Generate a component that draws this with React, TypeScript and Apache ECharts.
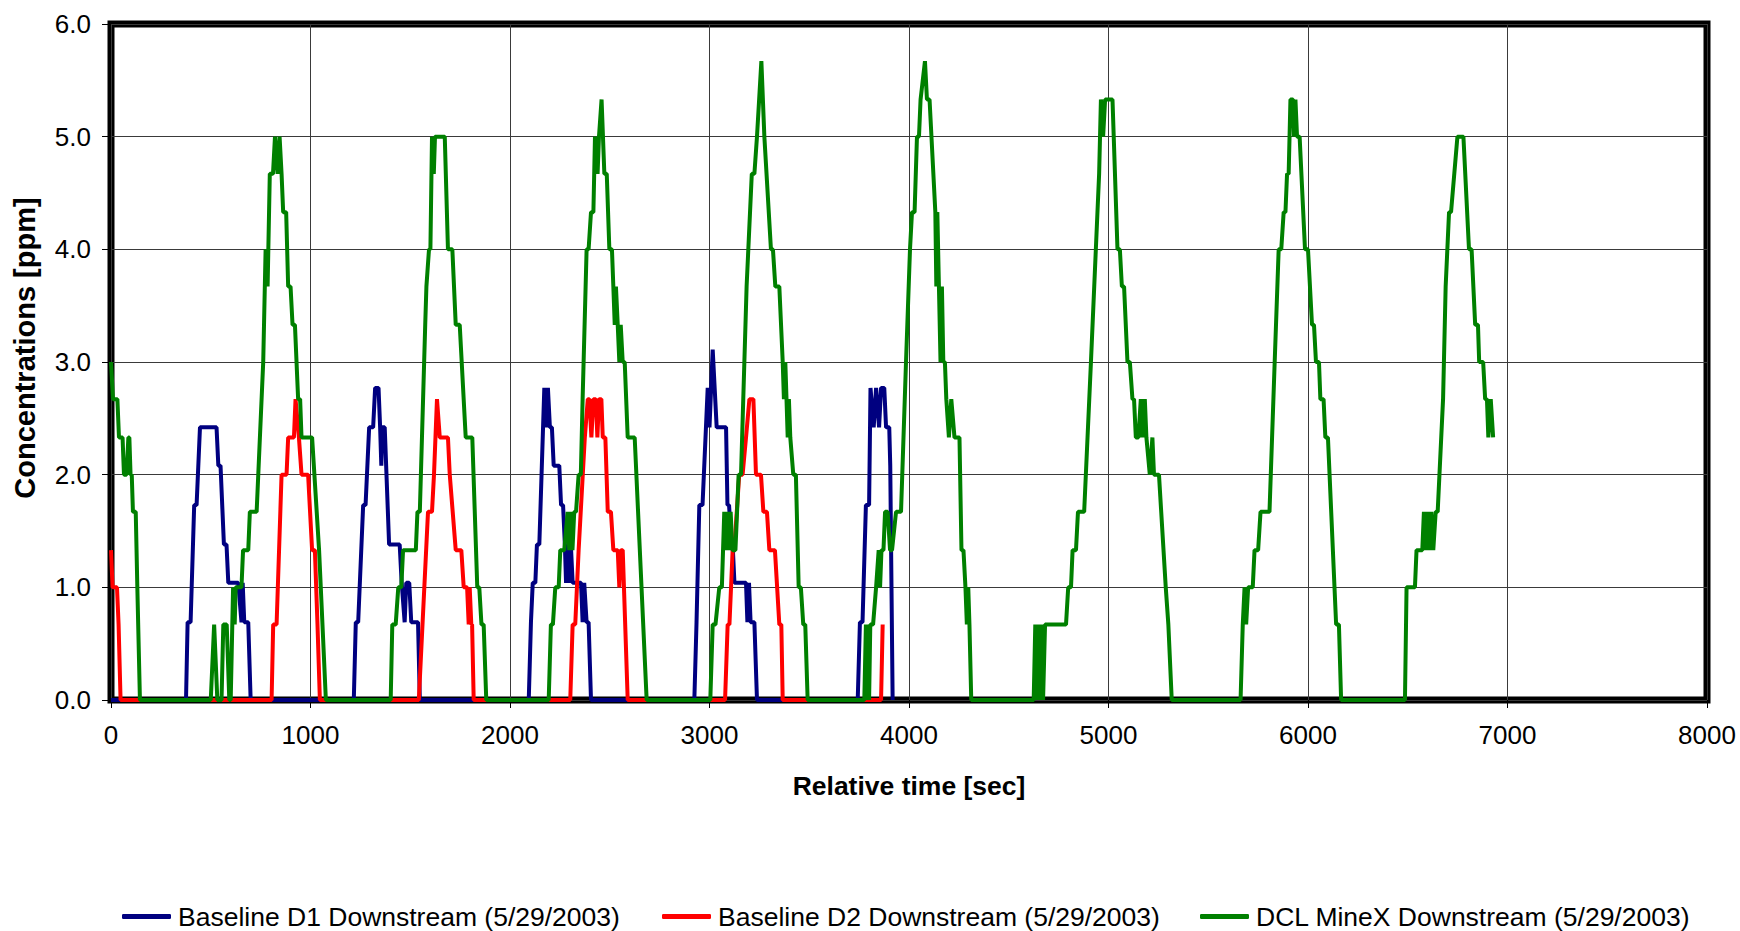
import React, { useEffect, useRef } from "react";
import * as echarts from "echarts";

const seriesNames = [
  "Baseline D1 Downstream (5/29/2003)",
  "Baseline D2 Downstream (5/29/2003)",
  "DCL MineX Downstream (5/29/2003)",
];
const seriesColors = ["#000080", "#FF0000", "#008000"];
const xTitle = "Relative time [sec]";
const yTitle = "Concentrations [ppm]";

const xTicks = { min: 0, max: 8000, step: 1000 };
const yTicks = { min: 0, max: 6, step: 1 };

// Baseline D1 Downstream: [time sec, ppm]
const d1Points: [number, number][] = [
  [0, 0], [376, 0], [384, 0.69], [399, 0.69], [417, 1.73], [429, 1.73], [446, 2.42], [529, 2.42],
  [538, 2.08], [549, 2.08], [566, 1.38], [579, 1.38], [588, 1.04], [638, 1.04], [654, 0.69],
  [660, 1.04], [668, 0.69], [688, 0.69], [700, 0],
  [1217, 0], [1227, 0.69], [1239, 0.69], [1264, 1.73], [1276, 1.73], [1294, 2.42], [1314, 2.42],
  [1324, 2.77], [1341, 2.77], [1349, 2.42], [1355, 2.08], [1360, 2.42], [1372, 2.42], [1394, 1.38],
  [1447, 1.38], [1457, 1.04], [1472, 0.69], [1480, 1.04], [1495, 1.04], [1505, 0.69], [1539, 0.69],
  [1548, 0],
  [2094, 0], [2105, 0.69], [2114, 1.04], [2127, 1.04], [2135, 1.38], [2147, 1.38], [2172, 2.77],
  [2180, 2.42], [2190, 2.77], [2200, 2.42], [2210, 2.42], [2219, 2.08], [2247, 2.08], [2256, 1.73],
  [2266, 1.73], [2275, 1.38], [2281, 1.04], [2289, 1.38], [2297, 1.04], [2305, 1.38], [2314, 1.04],
  [2356, 1.04], [2364, 0.69], [2372, 1.04], [2384, 0.69], [2394, 0.69], [2406, 0],
  [2924, 0], [2935, 0.69], [2949, 1.73], [2965, 1.73], [2991, 2.77], [3000, 2.42], [3016, 3.11],
  [3036, 2.42], [3083, 2.42], [3090, 1.73], [3098, 1.73], [3110, 1.38], [3116, 1.38], [3125, 1.04],
  [3183, 1.04], [3190, 0.69], [3198, 1.04], [3206, 0.69], [3225, 0.69], [3238, 0],
  [3743, 0], [3754, 0.69], [3767, 0.69], [3784, 1.73], [3800, 1.73], [3807, 2.77], [3823, 2.42],
  [3835, 2.77], [3850, 2.42], [3860, 2.77], [3876, 2.77], [3885, 2.42], [3901, 2.42], [3906, 2.08],
  [3918, 0],
];

// Baseline D2 Downstream: [time sec, ppm]
const d2Points: [number, number][] = [
  [0, 1.33], [8, 1.0], [30, 1.0], [38, 0.67], [48, 0],
  [805, 0], [813, 0.67], [830, 0.67], [855, 2.0], [880, 2.0], [888, 2.33], [917, 2.33], [925, 2.67],
  [942, 2.33], [955, 2.0], [988, 2.0], [1008, 1.33], [1022, 1.33], [1035, 0.67], [1047, 0],
  [1543, 0], [1589, 1.67], [1609, 1.67], [1619, 2.0], [1634, 2.67], [1648, 2.33], [1689, 2.33],
  [1698, 2.0], [1728, 1.33], [1756, 1.33], [1768, 1.0], [1785, 1.0], [1793, 0.67], [1798, 1.0],
  [1806, 0.67], [1810, 0.67], [1818, 0],
  [2302, 0], [2314, 0.67], [2327, 0.67], [2344, 1.33], [2375, 2.33], [2390, 2.67], [2398, 2.67],
  [2408, 2.33], [2418, 2.67], [2430, 2.67], [2438, 2.33], [2446, 2.67], [2458, 2.67], [2465, 2.33],
  [2478, 2.33], [2490, 1.67], [2506, 1.67], [2518, 1.33], [2540, 1.33],
  [2548, 1.0], [2556, 1.33], [2565, 1.33], [2590, 0],
  [3078, 0], [3091, 0.67], [3100, 0.67], [3116, 1.33], [3124, 1.33], [3149, 2.0], [3166, 2.0],
  [3183, 2.33], [3200, 2.67], [3220, 2.67], [3233, 2.0], [3258, 2.0], [3270, 1.67], [3288, 1.67],
  [3300, 1.33], [3328, 1.33], [3350, 0.67], [3360, 0.67], [3367, 0],
  [3860, 0], [3868, 0.67],
];

// DCL MineX Downstream: [time sec, ppm]
const dclPoints: [number, number][] = [
  [0, 3.0], [10, 2.67], [32, 2.67], [40, 2.33], [58, 2.33], [65, 2.0], [78, 2.0], [87, 2.33],
  [92, 2.33], [98, 2.0], [104, 2.0], [110, 1.67], [124, 1.67], [132, 1.0], [145, 0],
  [500, 0], [517, 0.67], [533, 0], [554, 0], [563, 0.67], [580, 0.67], [593, 0], [600, 0],
  [612, 1.0], [620, 0.67], [625, 1.0], [654, 1.0], [662, 1.33], [688, 1.33], [696, 1.67], [730, 1.67],
  [763, 3.0], [775, 4.0], [785, 3.67], [796, 4.67], [812, 4.67], [822, 5.0], [835, 4.67], [845, 5.0],
  [855, 4.67], [863, 4.33], [878, 4.33], [888, 3.67], [900, 3.67], [910, 3.33], [922, 3.33],
  [938, 2.67], [948, 2.67], [955, 2.33], [1008, 2.33], [1043, 1.33], [1060, 0.67], [1077, 0],
  [1402, 0], [1410, 0.67], [1427, 0.67], [1440, 1.0], [1455, 1.0], [1464, 1.33], [1528, 1.33],
  [1536, 1.67], [1548, 1.67], [1575, 3.33], [1581, 3.67], [1594, 4.0], [1601, 4.0], [1609, 5.0],
  [1618, 4.67], [1624, 5.0], [1673, 5.0], [1689, 4.0], [1711, 4.0], [1728, 3.33], [1748, 3.33],
  [1778, 2.33], [1811, 2.33], [1836, 1.0], [1846, 1.0], [1857, 0.67], [1868, 0.67], [1881, 0],
  [2194, 0], [2205, 0.67], [2215, 0.67], [2227, 1.0], [2244, 1.0], [2252, 1.33], [2272, 1.33],
  [2289, 1.67], [2297, 1.33], [2305, 1.67], [2313, 1.33], [2322, 1.67], [2331, 1.67], [2344, 2.0],
  [2355, 2.0], [2364, 2.67], [2384, 4.0], [2394, 4.0], [2406, 4.33], [2418, 4.33], [2426, 5.0],
  [2439, 4.67], [2446, 5.0], [2459, 5.33], [2473, 4.67], [2485, 4.67], [2498, 4.0], [2511, 4.0],
  [2518, 3.67], [2525, 3.33], [2531, 3.67], [2540, 3.33], [2548, 3.0], [2555, 3.33], [2565, 3.0],
  [2575, 3.0], [2590, 2.33], [2625, 2.33], [2685, 0],
  [3004, 0], [3016, 0.67], [3030, 0.67], [3049, 1.0], [3062, 1.0], [3074, 1.67], [3082, 1.33],
  [3090, 1.67], [3098, 1.33], [3106, 1.67], [3115, 1.33], [3130, 1.33], [3146, 2.0], [3158, 2.0],
  [3186, 3.67], [3212, 4.67], [3225, 4.67], [3238, 5.0], [3260, 5.67], [3275, 5.0], [3308, 4.0],
  [3318, 4.0], [3330, 3.67], [3350, 3.67], [3367, 3.0], [3373, 2.67], [3380, 3.0], [3386, 2.67],
  [3392, 2.33], [3398, 2.67], [3405, 2.33], [3420, 2.0], [3433, 2.0], [3447, 1.0], [3458, 1.0],
  [3470, 0.67], [3480, 0.67], [3492, 0],
  [3776, 0], [3784, 0.67], [3789, 0], [3794, 0.67], [3800, 0], [3806, 0.67], [3820, 0.67],
  [3835, 1.0], [3848, 1.33], [3855, 1.0], [3862, 1.33], [3872, 1.33], [3880, 1.67], [3893, 1.67],
  [3905, 1.33], [3915, 1.33], [3935, 1.67], [3960, 1.67], [3985, 3.0], [4005, 4.0], [4015, 4.33],
  [4028, 4.33], [4040, 5.0], [4050, 5.0], [4058, 5.33], [4080, 5.67], [4090, 5.33], [4103, 5.33],
  [4132, 4.33], [4137, 3.67], [4142, 4.33], [4150, 3.67], [4158, 3.0], [4165, 3.67], [4172, 3.0],
  [4180, 3.0], [4187, 2.67], [4200, 2.33], [4212, 2.67], [4228, 2.33], [4253, 2.33], [4263, 1.33],
  [4273, 1.33], [4283, 1.0], [4290, 0.67], [4297, 1.0], [4303, 0.67], [4312, 0],
  [4625, 0], [4633, 0.67], [4640, 0], [4648, 0.67], [4657, 0], [4665, 0.67], [4672, 0], [4682, 0.67],
  [4787, 0.67], [4798, 1.0], [4812, 1.0], [4820, 1.33], [4837, 1.33], [4847, 1.67], [4878, 1.67],
  [4912, 3.0], [4953, 4.67], [4962, 5.33], [4973, 5.0], [4983, 5.33], [5020, 5.33], [5045, 4.0],
  [5057, 4.0], [5067, 3.67], [5078, 3.67], [5095, 3.0], [5107, 3.0], [5120, 2.67], [5128, 2.67],
  [5137, 2.33], [5150, 2.33], [5162, 2.67], [5170, 2.33], [5182, 2.67], [5190, 2.33], [5207, 2.0],
  [5220, 2.33], [5228, 2.0], [5253, 2.0], [5287, 1.0], [5300, 0.67], [5317, 0],
  [5662, 0], [5673, 0.67], [5682, 1.0], [5690, 0.67], [5700, 1.0], [5723, 1.0], [5732, 1.33],
  [5750, 1.33], [5762, 1.67], [5807, 1.67], [5833, 3.0], [5853, 4.0], [5866, 4.0], [5878, 4.33],
  [5887, 4.33], [5895, 4.67], [5903, 4.67], [5912, 5.33], [5925, 5.33], [5930, 5.0], [5937, 5.33],
  [5945, 5.0], [5958, 5.0], [5985, 4.0], [6000, 4.0], [6020, 3.33], [6030, 3.33], [6040, 3.0],
  [6055, 3.0], [6062, 2.67], [6078, 2.67], [6087, 2.33], [6100, 2.33], [6141, 0.67], [6155, 0.67],
  [6166, 0],
  [6486, 0], [6494, 1.0], [6536, 1.0], [6544, 1.33], [6573, 1.33], [6581, 1.67], [6590, 1.33],
  [6598, 1.67], [6608, 1.33], [6618, 1.67], [6628, 1.33], [6640, 1.67], [6650, 1.67], [6677, 2.67],
  [6690, 3.67], [6707, 4.33], [6717, 4.33], [6749, 5.0], [6779, 5.0], [6807, 4.0], [6820, 4.0],
  [6838, 3.33], [6852, 3.33], [6858, 3.0], [6878, 3.0], [6888, 2.67], [6897, 2.67], [6904, 2.33],
  [6916, 2.67], [6928, 2.33],
];

const allPoints = [d1Points, d2Points, dclPoints];
const legendLeft = [122, 662, 1200];
const FONT = "'Liberation Sans', Arial, sans-serif";

export default function App() {
  const ref = useRef<HTMLDivElement>(null);

  useEffect(() => {
    if (!ref.current) return;
    const chart = echarts.init(ref.current, null, { renderer: "svg" });
    const option: any = {
      animation: false,
      backgroundColor: "#ffffff",
      textStyle: { fontFamily: FONT, color: "#000" },
      grid: {
        left: 111,
        top: 24,
        width: 1596,
        height: 676,
        show: true,
        borderColor: "#000",
        borderWidth: 7,
        backgroundColor: "transparent",
      },
      graphic: [
        {
          type: "text",
          x: 25,
          y: 348,
          rotation: Math.PI / 2,
          style: {
            text: yTitle,
            fill: "#000",
            font: "bold 29px 'Liberation Sans', Arial, sans-serif",
            align: "center",
            verticalAlign: "middle",
          },
        },
      ],
      legend: seriesNames.map((name, i) => ({
        data: [name],
        left: legendLeft[i],
        top: 903,
        padding: 0,
        itemWidth: 49,
        itemHeight: 5,
        itemGap: 0,
        icon: "roundRect",
        selectedMode: false,
        textStyle: { fontFamily: FONT, fontSize: 26.5, color: "#000", padding: [0, 0, 0, 2] },
      })),
      xAxis: {
        type: "value",
        min: xTicks.min,
        max: xTicks.max,
        interval: xTicks.step,
        name: xTitle,
        nameLocation: "middle",
        nameGap: 72,
        nameTextStyle: { fontFamily: FONT, fontSize: 26.5, fontWeight: "bold", color: "#000" },
        axisLine: { show: false },
        axisTick: { show: true, length: 8, lineStyle: { color: "#000", width: 1 } },
        axisLabel: {
          margin: 22,
          fontFamily: FONT,
          fontSize: 26,
          color: "#000",
          formatter: (v: number) => String(v),
        },
        splitLine: { show: true, lineStyle: { color: "#3a3a3a", width: 1 } },
      },
      yAxis: {
        type: "value",
        min: yTicks.min,
        max: yTicks.max,
        interval: yTicks.step,
        axisLine: { show: false },
        axisTick: { show: true, length: 9, lineStyle: { color: "#000", width: 1 } },
        axisLabel: {
          margin: 20,
          fontFamily: FONT,
          fontSize: 26,
          color: "#000",
          formatter: (v: number) => v.toFixed(1),
        },
        splitLine: { show: true, lineStyle: { color: "#3a3a3a", width: 1 } },
      },
      series: seriesNames.map((name, i) => ({
        name,
        type: "line",
        data: allPoints[i],
        showSymbol: false,
        symbol: "none",
        color: seriesColors[i],
        lineStyle: { color: seriesColors[i], width: 4 },
        itemStyle: { color: seriesColors[i] },
      })),
    };
    chart.setOption(option);
    return () => chart.dispose();
  }, []);

  return (
    <div
      ref={ref}
      style={{ position: "fixed", left: 0, top: 0, width: 1740, height: 931, background: "#fff" }}
    />
  );
}
